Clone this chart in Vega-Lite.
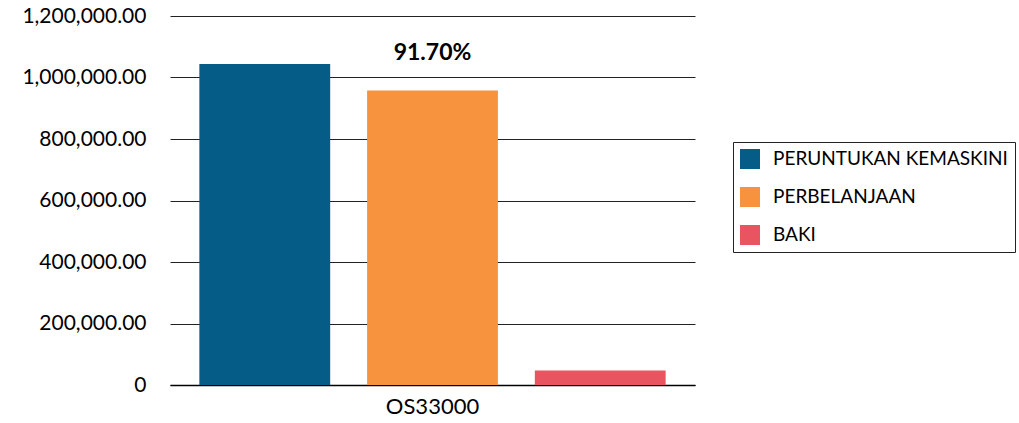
{
  "$schema": "https://vega.github.io/schema/vega-lite/v6.json",
  "width": 525,
  "height": 369,
  "autosize": {"type": "none"},
  "padding": {"left": 170, "top": 16, "right": 324, "bottom": 38},
  "config": {"font": "Lato", "view": {"stroke": null}},
  "data": {"values": [
    {"kod": "OS33000", "series": "PERUNTUKAN KEMASKINI", "amount": 1044000, "label": ""},
    {"kod": "OS33000", "series": "PERBELANJAAN", "amount": 957400, "label": "91.70%"},
    {"kod": "OS33000", "series": "BAKI", "amount": 47000, "label": ""}
  ]},
  "encoding": {
    "x": {
      "field": "kod", "type": "nominal",
      "scale": {"paddingInner": 0, "paddingOuter": 0},
      "axis": {"title": null, "labelAngle": 0, "labelFontSize": 22, "labelColor": "#000", "ticks": false, "labelPadding": 11, "domainColor": "#000", "domainWidth": 1.5}
    },
    "xOffset": {
      "field": "series", "type": "nominal",
      "sort": ["PERUNTUKAN KEMASKINI", "PERBELANJAAN", "BAKI"],
      "scale": {"paddingInner": 0.22, "paddingOuter": 0.175}
    },
    "y": {
      "field": "amount", "type": "quantitative",
      "scale": {"domain": [0, 1200000], "nice": false},
      "axis": {
        "title": null, "domain": false, "ticks": false, "labelPadding": 24,
        "labelFontSize": 21, "labelColor": "#000",
        "values": [0, 200000, 400000, 600000, 800000, 1000000, 1200000],
        "labelExpr": "datum.value == 0 ? '0' : format(datum.value, ',.2f')",
        "gridColor": "#222", "gridWidth": 1, "gridOpacity": 1
      }
    }
  },
  "layer": [
    {
      "mark": {"type": "bar"},
      "encoding": {
        "color": {
          "field": "series", "type": "nominal",
          "scale": {"domain": ["PERUNTUKAN KEMASKINI", "PERBELANJAAN", "BAKI"], "range": ["#055C87", "#F7923E", "#E85561"]},
          "legend": {
            "title": null, "orient": "none", "legendX": 563, "legendY": 126,
            "strokeColor": "#222", "padding": 7,
            "symbolType": "square", "symbolSize": 400, "symbolStrokeWidth": 0, "symbolOpacity": 1,
            "labelFontSize": 19, "labelColor": "#000", "labelOffset": 13, "rowPadding": 18,
            "labelLimit": 400
          }
        }
      }
    },
    {
      "transform": [{"filter": "datum.label != ''"}],
      "mark": {"type": "text", "baseline": "alphabetic", "dy": -31, "fontWeight": "bold", "fontSize": 23, "color": "#000"},
      "encoding": {"text": {"field": "label"}}
    }
  ]
}
